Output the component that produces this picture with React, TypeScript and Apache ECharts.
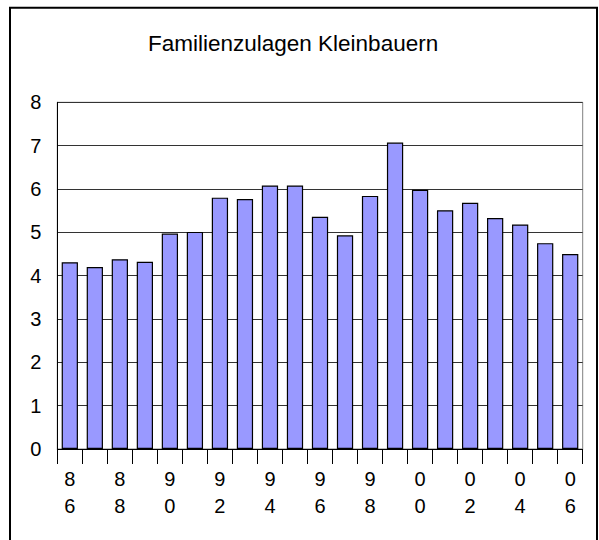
import React, { useEffect, useRef } from "react";
import * as echarts from "echarts";

const titleText = "Familienzulagen Kleinbauern";
const years = ["86", "87", "88", "89", "90", "91", "92", "93", "94", "95", "96", "97", "98", "99", "00", "01", "02", "03", "04", "05", "06"];
const values = [4.31, 4.2, 4.38, 4.32, 4.97, 5.01, 5.8, 5.77, 6.08, 6.08, 5.36, 4.93, 5.84, 7.07, 5.98, 5.51, 5.68, 5.33, 5.18, 4.75, 4.5];
const yMin = 0;
const yMax = 8;
const yStep = 1;

const FONT = "'Liberation Sans', Arial, sans-serif";

export default function App() {
  const ref = useRef<HTMLDivElement>(null);
  useEffect(() => {
    if (!ref.current) return;
    const chart = echarts.init(ref.current, null, { renderer: "svg" });
    chart.setOption({
      animation: false,
      backgroundColor: "#fff",
      title: {
        text: titleText,
        left: 148,
        top: 32,
        padding: 0,
        textStyle: { fontFamily: FONT, fontSize: 22.5, fontWeight: "normal", color: "#000" },
      },
      graphic: [
        {
          type: "rect",
          shape: { x: 10, y: 7.7, width: 587, height: 600 },
          style: { fill: "none", stroke: "#000", lineWidth: 2 },
          z: 100,
        },
      ],
      grid: {
        left: 57.3,
        right: 16.3,
        top: 102.3,
        bottom: 91,
        show: true,
        borderColor: "#808080",
        borderWidth: 1,
        containLabel: false,
        outerBoundsMode: "none",
      },
      xAxis: {
        type: "category",
        data: years,
        boundaryGap: true,
        z: 10,
        axisLine: { show: true, onZero: false, lineStyle: { color: "#000", width: 1 } },
        axisTick: { show: true, interval: 0, alignWithLabel: false, length: 15, lineStyle: { color: "#000", width: 1 } },
        axisLabel: {
          interval: 1,
          margin: 16,
          fontFamily: FONT,
          fontSize: 20,
          lineHeight: 27,
          color: "#000",
          formatter: (v: string) => v.split("").join("\n"),
        },
        splitLine: { show: false },
      },
      yAxis: {
        type: "value",
        min: yMin,
        max: yMax,
        interval: yStep,
        axisLine: { show: true, lineStyle: { color: "#000", width: 1 } },
        axisTick: { show: false },
        axisLabel: {
          margin: 16,
          fontFamily: FONT,
          fontSize: 20,
          color: "#000",
        },
        splitLine: { show: true, lineStyle: { color: "#333", width: 1 } },
      },
      series: [
        {
          type: "bar",
          data: values,
          barWidth: "65%",
          itemStyle: { color: "#9999FF", borderColor: "#000", borderWidth: 1.2 },
        },
      ],
    });
    return () => chart.dispose();
  }, []);
  return (
    <div
      ref={ref}
      style={{ position: "absolute", left: 0, top: 0, width: 599, height: 540 }}
    />
  );
}
